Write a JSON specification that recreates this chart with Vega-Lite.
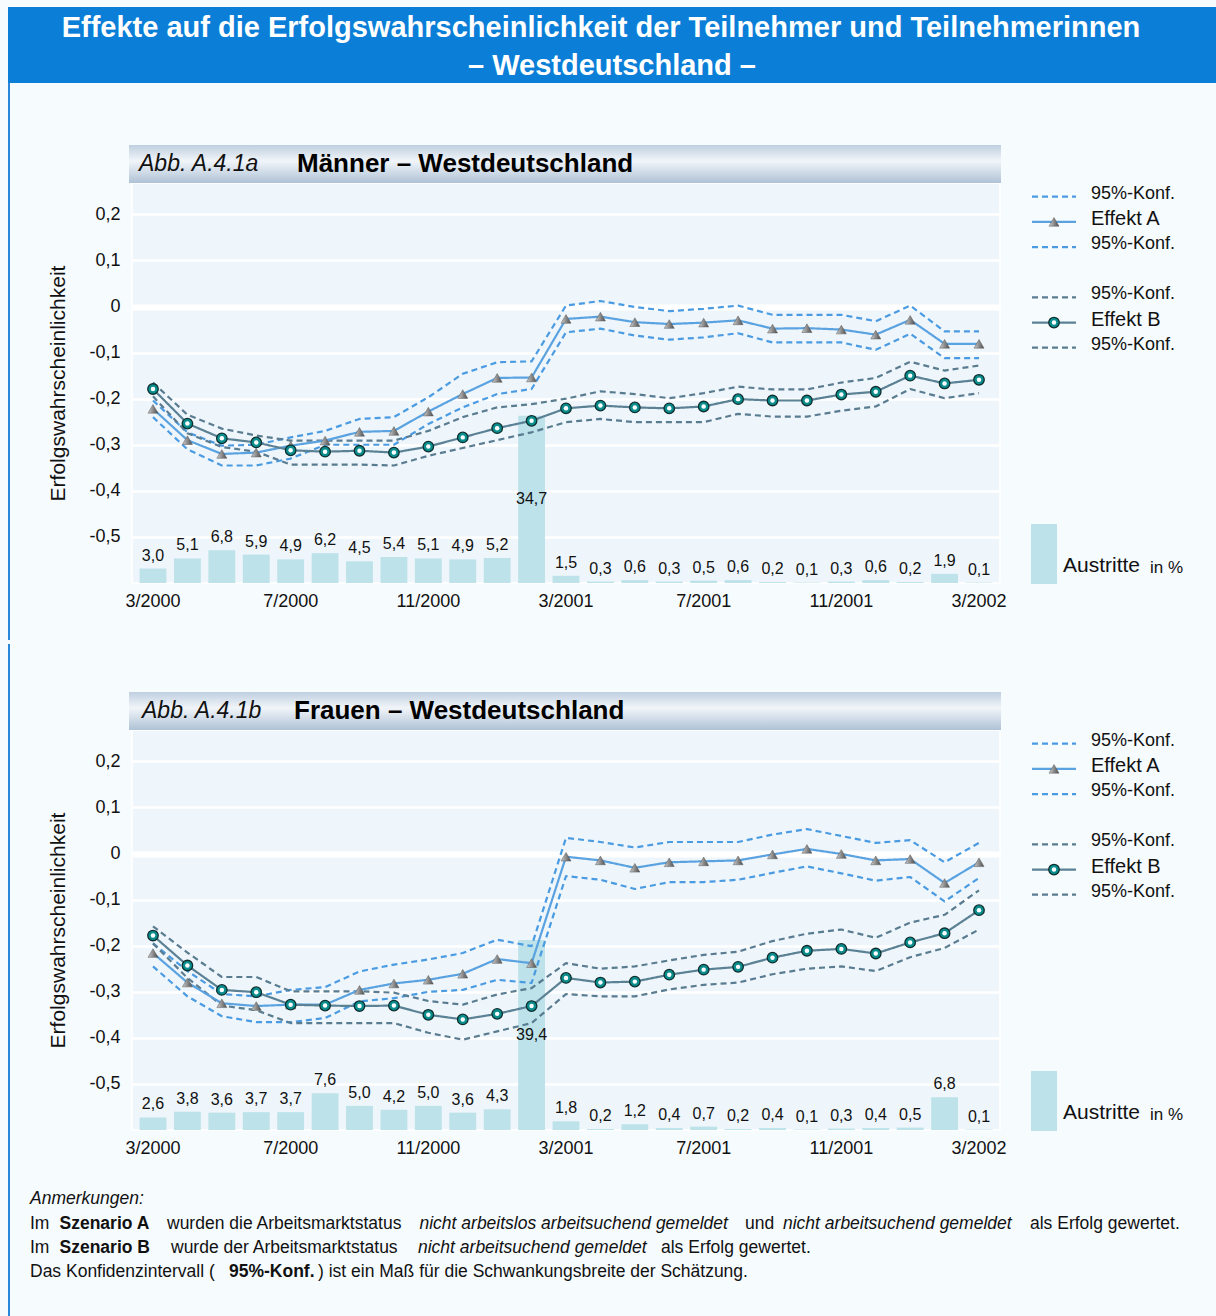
{
  "$schema": "https://vega.github.io/schema/vega-lite/v6.json",
  "padding": {"left": 7, "top": 6, "right": 0, "bottom": 3},
  "autosize": {"type": "pad"},
  "background": "#f6fbfe",
  "config": {
    "font": "Liberation Sans",
    "view": {"stroke": null},
    "locale": {"number": {"decimal": ",", "thousands": ".", "grouping": [3], "currency": ["", " €"], "minus": "-"}}
  },
  "datasets": {
    "men": [
      {"m":"3/2000","a":-0.222,"aLo":-0.240,"aHi":-0.204,"b":-0.179,"bLo":-0.195,"bHi":-0.165,"exit":3.0},
      {"m":"4/2000","a":-0.290,"aLo":-0.310,"aHi":-0.273,"b":-0.254,"bLo":-0.275,"bHi":-0.235,"exit":5.1},
      {"m":"5/2000","a":-0.320,"aLo":-0.345,"aHi":-0.302,"b":-0.286,"bLo":-0.305,"bHi":-0.265,"exit":6.8},
      {"m":"6/2000","a":-0.317,"aLo":-0.345,"aHi":-0.300,"b":-0.295,"bLo":-0.315,"bHi":-0.280,"exit":5.9},
      {"m":"7/2000","a":-0.302,"aLo":-0.330,"aHi":-0.284,"b":-0.312,"bLo":-0.343,"bHi":-0.291,"exit":4.9},
      {"m":"8/2000","a":-0.291,"aLo":-0.300,"aHi":-0.270,"b":-0.315,"bLo":-0.343,"bHi":-0.291,"exit":6.2},
      {"m":"9/2000","a":-0.272,"aLo":-0.300,"aHi":-0.244,"b":-0.313,"bLo":-0.343,"bHi":-0.291,"exit":4.5},
      {"m":"10/2000","a":-0.270,"aLo":-0.300,"aHi":-0.240,"b":-0.317,"bLo":-0.345,"bHi":-0.291,"exit":5.4},
      {"m":"11/2000","a":-0.228,"aLo":-0.255,"aHi":-0.197,"b":-0.304,"bLo":-0.324,"bHi":-0.270,"exit":5.1},
      {"m":"12/2000","a":-0.190,"aLo":-0.219,"aHi":-0.146,"b":-0.284,"bLo":-0.307,"bHi":-0.240,"exit":4.9},
      {"m":"1/2001","a":-0.155,"aLo":-0.190,"aHi":-0.121,"b":-0.264,"bLo":-0.290,"bHi":-0.219,"exit":5.2},
      {"m":"2/2001","a":-0.154,"aLo":-0.179,"aHi":-0.119,"b":-0.248,"bLo":-0.273,"bHi":-0.212,"exit":34.7},
      {"m":"3/2001","a":-0.027,"aLo":-0.056,"aHi":0.002,"b":-0.221,"bLo":-0.251,"bHi":-0.200,"exit":1.5},
      {"m":"4/2001","a":-0.022,"aLo":-0.048,"aHi":0.012,"b":-0.215,"bLo":-0.244,"bHi":-0.184,"exit":0.3},
      {"m":"5/2001","a":-0.034,"aLo":-0.063,"aHi":-0.001,"b":-0.219,"bLo":-0.251,"bHi":-0.190,"exit":0.6},
      {"m":"6/2001","a":-0.038,"aLo":-0.072,"aHi":-0.010,"b":-0.221,"bLo":-0.251,"bHi":-0.199,"exit":0.3},
      {"m":"7/2001","a":-0.035,"aLo":-0.067,"aHi":-0.005,"b":-0.217,"bLo":-0.251,"bHi":-0.188,"exit":0.5},
      {"m":"8/2001","a":-0.030,"aLo":-0.058,"aHi":0.002,"b":-0.201,"bLo":-0.233,"bHi":-0.174,"exit":0.6},
      {"m":"9/2001","a":-0.048,"aLo":-0.078,"aHi":-0.018,"b":-0.204,"bLo":-0.239,"bHi":-0.180,"exit":0.2},
      {"m":"10/2001","a":-0.047,"aLo":-0.078,"aHi":-0.018,"b":-0.204,"bLo":-0.239,"bHi":-0.180,"exit":0.1},
      {"m":"11/2001","a":-0.050,"aLo":-0.078,"aHi":-0.018,"b":-0.191,"bLo":-0.226,"bHi":-0.165,"exit":0.3},
      {"m":"12/2001","a":-0.061,"aLo":-0.094,"aHi":-0.032,"b":-0.185,"bLo":-0.217,"bHi":-0.155,"exit":0.6},
      {"m":"1/2002","a":-0.029,"aLo":-0.059,"aHi":0.002,"b":-0.150,"bLo":-0.179,"bHi":-0.120,"exit":0.2},
      {"m":"2/2002","a":-0.081,"aLo":-0.112,"aHi":-0.054,"b":-0.167,"bLo":-0.199,"bHi":-0.139,"exit":1.9},
      {"m":"3/2002","a":-0.081,"aLo":-0.112,"aHi":-0.054,"b":-0.159,"bLo":-0.188,"bHi":-0.128,"exit":0.1}
    ],
    "women": [
      {"m":"3/2000","a":-0.216,"aLo":-0.245,"aHi":-0.195,"b":-0.178,"bLo":-0.195,"bHi":-0.158,"exit":2.6},
      {"m":"4/2000","a":-0.280,"aLo":-0.310,"aHi":-0.255,"b":-0.243,"bLo":-0.270,"bHi":-0.215,"exit":3.8},
      {"m":"5/2000","a":-0.325,"aLo":-0.353,"aHi":-0.305,"b":-0.296,"bLo":-0.330,"bHi":-0.268,"exit":3.6},
      {"m":"6/2000","a":-0.331,"aLo":-0.366,"aHi":-0.310,"b":-0.301,"bLo":-0.340,"bHi":-0.268,"exit":3.7},
      {"m":"7/2000","a":-0.328,"aLo":-0.366,"aHi":-0.296,"b":-0.328,"bLo":-0.368,"bHi":-0.299,"exit":3.7},
      {"m":"8/2000","a":-0.328,"aLo":-0.357,"aHi":-0.290,"b":-0.330,"bLo":-0.368,"bHi":-0.299,"exit":7.6},
      {"m":"9/2000","a":-0.296,"aLo":-0.321,"aHi":-0.256,"b":-0.331,"bLo":-0.368,"bHi":-0.299,"exit":5.0},
      {"m":"10/2000","a":-0.282,"aLo":-0.314,"aHi":-0.241,"b":-0.330,"bLo":-0.368,"bHi":-0.302,"exit":4.2},
      {"m":"11/2000","a":-0.274,"aLo":-0.300,"aHi":-0.230,"b":-0.350,"bLo":-0.389,"bHi":-0.320,"exit":5.0},
      {"m":"12/2000","a":-0.261,"aLo":-0.296,"aHi":-0.216,"b":-0.360,"bLo":-0.404,"bHi":-0.328,"exit":3.6},
      {"m":"1/2001","a":-0.229,"aLo":-0.274,"aHi":-0.187,"b":-0.348,"bLo":-0.386,"bHi":-0.306,"exit":4.3},
      {"m":"2/2001","a":-0.238,"aLo":-0.281,"aHi":-0.201,"b":-0.331,"bLo":-0.368,"bHi":-0.292,"exit":39.4},
      {"m":"3/2001","a":-0.007,"aLo":-0.049,"aHi":0.034,"b":-0.270,"bLo":-0.305,"bHi":-0.238,"exit":1.8},
      {"m":"4/2001","a":-0.015,"aLo":-0.057,"aHi":0.025,"b":-0.280,"bLo":-0.310,"bHi":-0.250,"exit":0.2},
      {"m":"5/2001","a":-0.031,"aLo":-0.077,"aHi":0.013,"b":-0.278,"bLo":-0.310,"bHi":-0.245,"exit":1.2},
      {"m":"6/2001","a":-0.019,"aLo":-0.062,"aHi":0.025,"b":-0.263,"bLo":-0.295,"bHi":-0.232,"exit":0.4},
      {"m":"7/2001","a":-0.017,"aLo":-0.062,"aHi":0.025,"b":-0.252,"bLo":-0.285,"bHi":-0.220,"exit":0.7},
      {"m":"8/2001","a":-0.015,"aLo":-0.057,"aHi":0.025,"b":-0.246,"bLo":-0.280,"bHi":-0.213,"exit":0.2},
      {"m":"9/2001","a":-0.002,"aLo":-0.042,"aHi":0.041,"b":-0.226,"bLo":-0.262,"bHi":-0.190,"exit":0.4},
      {"m":"10/2001","a":0.010,"aLo":-0.028,"aHi":0.053,"b":-0.211,"bLo":-0.250,"bHi":-0.174,"exit":0.1},
      {"m":"11/2001","a":-0.001,"aLo":-0.043,"aHi":0.038,"b":-0.207,"bLo":-0.245,"bHi":-0.165,"exit":0.3},
      {"m":"12/2001","a":-0.015,"aLo":-0.059,"aHi":0.023,"b":-0.217,"bLo":-0.255,"bHi":-0.183,"exit":0.4},
      {"m":"1/2002","a":-0.012,"aLo":-0.051,"aHi":0.029,"b":-0.193,"bLo":-0.225,"bHi":-0.150,"exit":0.5},
      {"m":"2/2002","a":-0.064,"aLo":-0.104,"aHi":-0.019,"b":-0.173,"bLo":-0.205,"bHi":-0.133,"exit":6.8},
      {"m":"3/2002","a":-0.019,"aLo":-0.053,"aHi":0.023,"b":-0.123,"bLo":-0.165,"bHi":-0.080,"exit":0.1}
    ],
    "legend": [
      {"slot":0,"kind":"aHi","label":"95%-Konf."},
      {"slot":1,"kind":"a","label":"Effekt A"},
      {"slot":2,"kind":"aHi","label":"95%-Konf."},
      {"slot":4,"kind":"bHi","label":"95%-Konf."},
      {"slot":5,"kind":"b","label":"Effekt B"},
      {"slot":6,"kind":"bHi","label":"95%-Konf."},
      {"slot":14.2,"kind":"exit","label":"Austritte","unit":"in %"}
    ]
  },
  "spacing": 0,
  "vconcat": [
    {
      "width": 868, "height": 400,
      "view": {"fill": "#eef6fb", "stroke": "#ffffff", "strokeWidth": 1.5},
      "resolve": {"scale": {"x": "independent", "y": "independent"}},
      "layer": [
        {
          "data": {"name": "men"},
          "encoding": {
            "x": {"field": "m", "type": "ordinal", "sort": null,
              "scale": {"type": "band", "paddingInner": 0.22, "paddingOuter": 0.22, "domain": ["3/2000","4/2000","5/2000","6/2000","7/2000","8/2000","9/2000","10/2000","11/2000","12/2000","1/2001","2/2001","3/2001","4/2001","5/2001","6/2001","7/2001","8/2001","9/2001","10/2001","11/2001","12/2001","1/2002","2/2002","3/2002"]},
              "axis": {"values": ["3/2000","7/2000","11/2000","3/2001","7/2001","11/2001","3/2002"], "title": null, "labelAngle": 0, "domain": false, "ticks": false, "grid": false, "labelFontSize": 18, "labelPadding": 9, "labelColor": "#111111"}}
          },
          "resolve": {"scale": {"y": "independent"}},
          "layer": [
            {
              "encoding": {"y": {"field": "exit", "type": "quantitative", "scale": {"domain": [0, 83], "nice": false}, "axis": null}},
              "layer": [
                {"mark": {"type": "bar", "color": "#bde2ea"}},
                {"transform": [{"filter": "datum.exit < 20"}], "mark": {"type": "text", "baseline": "bottom", "dy": -5, "fontSize": 16, "color": "#111111"}, "encoding": {"text": {"field": "exit", "type": "quantitative", "format": ".1f"}}},
                {"transform": [{"filter": "datum.exit >= 20"}, {"calculate": "datum.exit / 2", "as": "mid"}], "mark": {"type": "text", "baseline": "middle", "fontSize": 16, "color": "#111111"}, "encoding": {"y": {"field": "mid", "type": "quantitative", "axis": null}, "text": {"field": "exit", "type": "quantitative", "format": ".1f"}}}
              ]
            },
            {
              "transform": [{"fold": ["aHi", "aLo", "bHi", "bLo", "a", "b"], "as": ["key", "value"]}],
              "encoding": {"y": {"field": "value", "type": "quantitative", "scale": {"domain": [-0.6, 0.268], "nice": false, "zero": false},
                "axis": {"title": "Erfolgswahrscheinlichkeit", "values": [0.2, 0.1, 0, -0.1, -0.2, -0.3, -0.4, -0.5], "labelExpr": "datum.value == 0 ? '0' : (datum.value < 0 ? '-' : '') + '0,' + format(abs(datum.value) * 10, '.0f')", "domain": false, "ticks": false, "grid": true, "gridColor": "#ffffff", "gridOpacity": 1, "gridWidth": {"condition": {"test": "datum.value === 0", "value": 6}, "value": 2.5}, "labelFontSize": 18, "labelPadding": 12, "labelColor": "#111111", "titleFontSize": 21, "titleFontWeight": "normal", "titleColor": "#111111", "titlePadding": 20}}},
              "layer": [
                {"mark": {"type": "line", "strokeJoin": "round"}, "encoding": {
                  "detail": {"field": "key"},
                  "color": {"field": "key", "type": "nominal", "scale": {"domain": ["aHi","aLo","bHi","bLo","a","b"], "range": ["#4b9be2","#4b9be2","#5a7c90","#5a7c90","#5aa2e0","#5b8194"]}, "legend": null},
                  "strokeDash": {"field": "key", "type": "nominal", "scale": {"domain": ["aHi","aLo","bHi","bLo","a","b"], "range": [[6,4],[6,4],[6,4],[6,4],[1,0],[1,0]]}, "legend": null},
                  "strokeWidth": {"field": "key", "type": "nominal", "scale": {"domain": ["aHi","aLo","bHi","bLo","a","b"], "range": [2.2,2.2,2.2,2.2,4.5,4.5]}, "legend": null}
                }},
                {"transform": [{"filter": "datum.key === 'a'"}], "mark": {"type": "point", "shape": "triangle-up", "filled": true, "size": 100, "opacity": 1, "fill": {"gradient": "linear", "x1": 0, "y1": 0, "x2": 1, "y2": 0, "stops": [{"offset": 0, "color": "#cfcfcf"}, {"offset": 0.5, "color": "#8c8c8c"}, {"offset": 1, "color": "#4d4d4d"}]}, "stroke": "#5a5a5a", "strokeWidth": 0.5}},
                {"transform": [{"filter": "datum.key === 'b'"}], "mark": {"type": "point", "shape": "circle", "filled": true, "size": 110, "opacity": 1, "fill": "#0a8d8d", "stroke": "#0f2f2f", "strokeWidth": 1.3}},
                {"transform": [{"filter": "datum.key === 'b'"}], "mark": {"type": "point", "shape": "circle", "filled": true, "size": 20, "opacity": 1, "fill": "#ffffff", "strokeWidth": 0}}
              ]
            }
          ]
        },
        {
          "data": {"name": "legend"},
          "encoding": {
            "y": {"field": "slot", "type": "quantitative", "scale": {"domain": [-0.544, 15.348], "reverse": true, "nice": false, "zero": false}, "axis": null}
          },
          "layer": [
            {"transform": [{"filter": "datum.kind !== 'exit'"}], "mark": {"type": "rule"}, "encoding": {
              "x": {"datum": 900, "type": "quantitative", "scale": {"domain": [0, 868], "nice": false, "zero": false}, "axis": null},
              "x2": {"datum": 944},
              "color": {"field": "kind", "type": "nominal", "scale": {"domain": ["aHi","aLo","bHi","bLo","a","b"], "range": ["#4b9be2","#4b9be2","#5a7c90","#5a7c90","#5aa2e0","#5b8194"]}, "legend": null},
              "strokeDash": {"field": "kind", "type": "nominal", "scale": {"domain": ["aHi","aLo","bHi","bLo","a","b"], "range": [[6,4],[6,4],[6,4],[6,4],[1,0],[1,0]]}, "legend": null},
              "strokeWidth": {"field": "kind", "type": "nominal", "scale": {"domain": ["aHi","aLo","bHi","bLo","a","b"], "range": [2.2,2.2,2.2,2.2,4.5,4.5]}, "legend": null}
            }},
            {"transform": [{"filter": "datum.kind === 'a'"}], "mark": {"type": "point", "shape": "triangle-up", "filled": true, "size": 100, "opacity": 1, "fill": {"gradient": "linear", "x1": 0, "y1": 0, "x2": 1, "y2": 0, "stops": [{"offset": 0, "color": "#cfcfcf"}, {"offset": 0.5, "color": "#8c8c8c"}, {"offset": 1, "color": "#4d4d4d"}]}, "stroke": "#5a5a5a", "strokeWidth": 0.5}, "encoding": {"x": {"datum": 922, "type": "quantitative"}}},
            {"transform": [{"filter": "datum.kind === 'b'"}], "mark": {"type": "point", "shape": "circle", "filled": true, "size": 110, "opacity": 1, "fill": "#0a8d8d", "stroke": "#0f2f2f", "strokeWidth": 1.3}, "encoding": {"x": {"datum": 922, "type": "quantitative"}}},
            {"transform": [{"filter": "datum.kind === 'b'"}], "mark": {"type": "point", "shape": "circle", "filled": true, "size": 20, "opacity": 1, "fill": "#ffffff", "strokeWidth": 0}, "encoding": {"x": {"datum": 922, "type": "quantitative"}}},
            {"transform": [{"filter": "datum.kind !== 'exit'"}], "mark": {"type": "text", "align": "left", "baseline": "middle", "dy": -3, "color": "#111111"}, "encoding": {
              "x": {"datum": 959, "type": "quantitative"},
              "text": {"field": "label"},
              "size": {"condition": {"test": "datum.kind === 'a' || datum.kind === 'b'", "value": 20}, "value": 18}
            }},
            {"transform": [{"filter": "datum.kind === 'exit'"}], "mark": {"type": "tick", "orient": "vertical", "thickness": 26, "size": 60, "color": "#bde2ea", "opacity": 1}, "encoding": {"x": {"datum": 912, "type": "quantitative"}}},
            {"transform": [{"filter": "datum.kind === 'exit'"}], "mark": {"type": "text", "align": "left", "baseline": "alphabetic", "dy": 18, "fontSize": 21, "color": "#111111"}, "encoding": {"x": {"datum": 931, "type": "quantitative"}, "text": {"field": "label"}}},
            {"transform": [{"filter": "datum.kind === 'exit'"}], "mark": {"type": "text", "align": "left", "baseline": "alphabetic", "dy": 19, "fontSize": 17, "color": "#111111"}, "encoding": {"x": {"datum": 1018, "type": "quantitative"}, "text": {"field": "unit"}}}
          ]
        },
        {
          "data": {"values": [{"abb": "Abb. A.4.1a", "t": "Männer – Westdeutschland", "h1": "Effekte auf die Erfolgswahrscheinlichkeit der Teilnehmer und Teilnehmerinnen", "h2": "– Westdeutschland –"}]},
          "layer": [
            {"mark": {"type": "rect", "fill": "#0b7fd8"}, "encoding": {
              "x": {"datum": -124, "type": "quantitative", "scale": {"domain": [0, 868], "nice": false, "zero": false}, "axis": null},
              "x2": {"datum": 1085},
              "y": {"datum": -176, "type": "quantitative", "scale": {"domain": [0, 400], "reverse": true, "nice": false, "zero": false}, "axis": null},
              "y2": {"datum": -100}
            }},
            {"mark": {"type": "text", "align": "center", "baseline": "middle", "fontSize": 29, "fontWeight": "bold", "color": "#ffffff"}, "encoding": {"x": {"datum": 469, "type": "quantitative"}, "y": {"datum": -155, "type": "quantitative"}, "text": {"field": "h1"}}},
            {"mark": {"type": "text", "align": "center", "baseline": "middle", "fontSize": 29, "fontWeight": "bold", "color": "#ffffff"}, "encoding": {"x": {"datum": 480, "type": "quantitative"}, "y": {"datum": -117, "type": "quantitative"}, "text": {"field": "h2"}}},
            {"mark": {"type": "rule", "color": "#2a86d8", "strokeWidth": 2}, "encoding": {
              "x": {"datum": -123, "type": "quantitative"},
              "y": {"datum": -100, "type": "quantitative"},
              "y2": {"datum": 457}
            }},
            {"mark": {"type": "rect", "fill": {"gradient": "linear", "x1": 0, "y1": 0, "x2": 0, "y2": 1, "stops": [{"offset": 0, "color": "#bfcfe0"}, {"offset": 0.42, "color": "#f1f5f9"}, {"offset": 1, "color": "#afc2d6"}]}}, "encoding": {
              "x": {"datum": -3, "type": "quantitative"}, "x2": {"datum": 869},
              "y": {"datum": -38, "type": "quantitative"}, "y2": {"datum": 0}
            }},
            {"mark": {"type": "text", "align": "left", "baseline": "middle", "fontSize": 23, "fontStyle": "italic", "color": "#111111"}, "encoding": {"x": {"datum": 7, "type": "quantitative"}, "y": {"datum": -19, "type": "quantitative"}, "text": {"field": "abb"}}},
            {"mark": {"type": "text", "align": "left", "baseline": "middle", "fontSize": 26, "fontWeight": "bold", "color": "#000000"}, "encoding": {"x": {"datum": 165, "type": "quantitative"}, "y": {"datum": -19, "type": "quantitative"}, "text": {"field": "t"}}}
          ]
        }
      ]
    },
    {
      "width": 868, "height": 400,
      "view": {"fill": "#eef6fb", "stroke": "#ffffff", "strokeWidth": 1.5},
      "resolve": {"scale": {"x": "independent", "y": "independent"}},
      "layer": [
        {
          "data": {"name": "women"},
          "encoding": {
            "x": {"field": "m", "type": "ordinal", "sort": null,
              "scale": {"type": "band", "paddingInner": 0.22, "paddingOuter": 0.22, "domain": ["3/2000","4/2000","5/2000","6/2000","7/2000","8/2000","9/2000","10/2000","11/2000","12/2000","1/2001","2/2001","3/2001","4/2001","5/2001","6/2001","7/2001","8/2001","9/2001","10/2001","11/2001","12/2001","1/2002","2/2002","3/2002"]},
              "axis": {"values": ["3/2000","7/2000","11/2000","3/2001","7/2001","11/2001","3/2002"], "title": null, "labelAngle": 0, "domain": false, "ticks": false, "grid": false, "labelFontSize": 18, "labelPadding": 9, "labelColor": "#111111"}}
          },
          "resolve": {"scale": {"y": "independent"}},
          "layer": [
            {
              "encoding": {"y": {"field": "exit", "type": "quantitative", "scale": {"domain": [0, 83], "nice": false}, "axis": null}},
              "layer": [
                {"mark": {"type": "bar", "color": "#bde2ea"}},
                {"transform": [{"filter": "datum.exit < 20"}], "mark": {"type": "text", "baseline": "bottom", "dy": -5, "fontSize": 16, "color": "#111111"}, "encoding": {"text": {"field": "exit", "type": "quantitative", "format": ".1f"}}},
                {"transform": [{"filter": "datum.exit >= 20"}, {"calculate": "datum.exit / 2", "as": "mid"}], "mark": {"type": "text", "baseline": "middle", "fontSize": 16, "color": "#111111"}, "encoding": {"y": {"field": "mid", "type": "quantitative", "axis": null}, "text": {"field": "exit", "type": "quantitative", "format": ".1f"}}}
              ]
            },
            {
              "transform": [{"fold": ["aHi", "aLo", "bHi", "bLo", "a", "b"], "as": ["key", "value"]}],
              "encoding": {"y": {"field": "value", "type": "quantitative", "scale": {"domain": [-0.6, 0.268], "nice": false, "zero": false},
                "axis": {"title": "Erfolgswahrscheinlichkeit", "values": [0.2, 0.1, 0, -0.1, -0.2, -0.3, -0.4, -0.5], "labelExpr": "datum.value == 0 ? '0' : (datum.value < 0 ? '-' : '') + '0,' + format(abs(datum.value) * 10, '.0f')", "domain": false, "ticks": false, "grid": true, "gridColor": "#ffffff", "gridOpacity": 1, "gridWidth": {"condition": {"test": "datum.value === 0", "value": 6}, "value": 2.5}, "labelFontSize": 18, "labelPadding": 12, "labelColor": "#111111", "titleFontSize": 21, "titleFontWeight": "normal", "titleColor": "#111111", "titlePadding": 20}}},
              "layer": [
                {"mark": {"type": "line", "strokeJoin": "round"}, "encoding": {
                  "detail": {"field": "key"},
                  "color": {"field": "key", "type": "nominal", "scale": {"domain": ["aHi","aLo","bHi","bLo","a","b"], "range": ["#4b9be2","#4b9be2","#5a7c90","#5a7c90","#5aa2e0","#5b8194"]}, "legend": null},
                  "strokeDash": {"field": "key", "type": "nominal", "scale": {"domain": ["aHi","aLo","bHi","bLo","a","b"], "range": [[6,4],[6,4],[6,4],[6,4],[1,0],[1,0]]}, "legend": null},
                  "strokeWidth": {"field": "key", "type": "nominal", "scale": {"domain": ["aHi","aLo","bHi","bLo","a","b"], "range": [2.2,2.2,2.2,2.2,4.5,4.5]}, "legend": null}
                }},
                {"transform": [{"filter": "datum.key === 'a'"}], "mark": {"type": "point", "shape": "triangle-up", "filled": true, "size": 100, "opacity": 1, "fill": {"gradient": "linear", "x1": 0, "y1": 0, "x2": 1, "y2": 0, "stops": [{"offset": 0, "color": "#cfcfcf"}, {"offset": 0.5, "color": "#8c8c8c"}, {"offset": 1, "color": "#4d4d4d"}]}, "stroke": "#5a5a5a", "strokeWidth": 0.5}},
                {"transform": [{"filter": "datum.key === 'b'"}], "mark": {"type": "point", "shape": "circle", "filled": true, "size": 110, "opacity": 1, "fill": "#0a8d8d", "stroke": "#0f2f2f", "strokeWidth": 1.3}},
                {"transform": [{"filter": "datum.key === 'b'"}], "mark": {"type": "point", "shape": "circle", "filled": true, "size": 20, "opacity": 1, "fill": "#ffffff", "strokeWidth": 0}}
              ]
            }
          ]
        },
        {
          "data": {"name": "legend"},
          "encoding": {
            "y": {"field": "slot", "type": "quantitative", "scale": {"domain": [-0.544, 15.348], "reverse": true, "nice": false, "zero": false}, "axis": null}
          },
          "layer": [
            {"transform": [{"filter": "datum.kind !== 'exit'"}], "mark": {"type": "rule"}, "encoding": {
              "x": {"datum": 900, "type": "quantitative", "scale": {"domain": [0, 868], "nice": false, "zero": false}, "axis": null},
              "x2": {"datum": 944},
              "color": {"field": "kind", "type": "nominal", "scale": {"domain": ["aHi","aLo","bHi","bLo","a","b"], "range": ["#4b9be2","#4b9be2","#5a7c90","#5a7c90","#5aa2e0","#5b8194"]}, "legend": null},
              "strokeDash": {"field": "kind", "type": "nominal", "scale": {"domain": ["aHi","aLo","bHi","bLo","a","b"], "range": [[6,4],[6,4],[6,4],[6,4],[1,0],[1,0]]}, "legend": null},
              "strokeWidth": {"field": "kind", "type": "nominal", "scale": {"domain": ["aHi","aLo","bHi","bLo","a","b"], "range": [2.2,2.2,2.2,2.2,4.5,4.5]}, "legend": null}
            }},
            {"transform": [{"filter": "datum.kind === 'a'"}], "mark": {"type": "point", "shape": "triangle-up", "filled": true, "size": 100, "opacity": 1, "fill": {"gradient": "linear", "x1": 0, "y1": 0, "x2": 1, "y2": 0, "stops": [{"offset": 0, "color": "#cfcfcf"}, {"offset": 0.5, "color": "#8c8c8c"}, {"offset": 1, "color": "#4d4d4d"}]}, "stroke": "#5a5a5a", "strokeWidth": 0.5}, "encoding": {"x": {"datum": 922, "type": "quantitative"}}},
            {"transform": [{"filter": "datum.kind === 'b'"}], "mark": {"type": "point", "shape": "circle", "filled": true, "size": 110, "opacity": 1, "fill": "#0a8d8d", "stroke": "#0f2f2f", "strokeWidth": 1.3}, "encoding": {"x": {"datum": 922, "type": "quantitative"}}},
            {"transform": [{"filter": "datum.kind === 'b'"}], "mark": {"type": "point", "shape": "circle", "filled": true, "size": 20, "opacity": 1, "fill": "#ffffff", "strokeWidth": 0}, "encoding": {"x": {"datum": 922, "type": "quantitative"}}},
            {"transform": [{"filter": "datum.kind !== 'exit'"}], "mark": {"type": "text", "align": "left", "baseline": "middle", "dy": -3, "color": "#111111"}, "encoding": {
              "x": {"datum": 959, "type": "quantitative"},
              "text": {"field": "label"},
              "size": {"condition": {"test": "datum.kind === 'a' || datum.kind === 'b'", "value": 20}, "value": 18}
            }},
            {"transform": [{"filter": "datum.kind === 'exit'"}], "mark": {"type": "tick", "orient": "vertical", "thickness": 26, "size": 60, "color": "#bde2ea", "opacity": 1}, "encoding": {"x": {"datum": 912, "type": "quantitative"}}},
            {"transform": [{"filter": "datum.kind === 'exit'"}], "mark": {"type": "text", "align": "left", "baseline": "alphabetic", "dy": 18, "fontSize": 21, "color": "#111111"}, "encoding": {"x": {"datum": 931, "type": "quantitative"}, "text": {"field": "label"}}},
            {"transform": [{"filter": "datum.kind === 'exit'"}], "mark": {"type": "text", "align": "left", "baseline": "alphabetic", "dy": 19, "fontSize": 17, "color": "#111111"}, "encoding": {"x": {"datum": 1018, "type": "quantitative"}, "text": {"field": "unit"}}}
          ]
        },
        {
          "data": {"values": [{"abb": "Abb. A.4.1b", "t": "Frauen – Westdeutschland"}]},
          "layer": [
            {"mark": {"type": "rule", "color": "#2a86d8", "strokeWidth": 2}, "encoding": {
              "x": {"datum": -123, "type": "quantitative", "scale": {"domain": [0, 868], "nice": false, "zero": false}, "axis": null},
              "y": {"datum": -86, "type": "quantitative", "scale": {"domain": [0, 400], "reverse": true, "nice": false, "zero": false}, "axis": null},
              "y2": {"datum": 586}
            }},
            {"mark": {"type": "rect", "fill": {"gradient": "linear", "x1": 0, "y1": 0, "x2": 0, "y2": 1, "stops": [{"offset": 0, "color": "#bfcfe0"}, {"offset": 0.42, "color": "#f1f5f9"}, {"offset": 1, "color": "#afc2d6"}]}}, "encoding": {
              "x": {"datum": -3, "type": "quantitative"}, "x2": {"datum": 869},
              "y": {"datum": -38, "type": "quantitative"}, "y2": {"datum": 0}
            }},
            {"mark": {"type": "text", "align": "left", "baseline": "middle", "fontSize": 23, "fontStyle": "italic", "color": "#111111"}, "encoding": {"x": {"datum": 10, "type": "quantitative"}, "y": {"datum": -19, "type": "quantitative"}, "text": {"field": "abb"}}},
            {"mark": {"type": "text", "align": "left", "baseline": "middle", "fontSize": 26, "fontWeight": "bold", "color": "#000000"}, "encoding": {"x": {"datum": 162, "type": "quantitative"}, "y": {"datum": -19, "type": "quantitative"}, "text": {"field": "t"}}},
            {"mark": {"type": "text", "align": "left", "baseline": "middle", "fontSize": 17.5, "fontStyle": "italic", "color": "#111111"}, "encoding": {"x": {"datum": -102, "type": "quantitative"}, "y": {"datum": 469, "type": "quantitative"}, "text": {"value": "Anmerkungen:"}}},
            {"mark": {"type": "text", "align": "left", "baseline": "middle", "fontSize": 17.5, "color": "#111111"}, "encoding": {"x": {"datum": -102, "type": "quantitative"}, "y": {"datum": 494, "type": "quantitative"}, "text": {"value": "Im"}}},
            {"mark": {"type": "text", "align": "left", "baseline": "middle", "fontSize": 17.5, "fontWeight": "bold", "color": "#111111"}, "encoding": {"x": {"datum": -72.5, "type": "quantitative"}, "y": {"datum": 494, "type": "quantitative"}, "text": {"value": "Szenario A"}}},
            {"mark": {"type": "text", "align": "left", "baseline": "middle", "fontSize": 17.5, "color": "#111111"}, "encoding": {"x": {"datum": 35, "type": "quantitative"}, "y": {"datum": 494, "type": "quantitative"}, "text": {"value": "wurden die Arbeitsmarktstatus"}}},
            {"mark": {"type": "text", "align": "left", "baseline": "middle", "fontSize": 17.5, "fontStyle": "italic", "color": "#111111"}, "encoding": {"x": {"datum": 287.5, "type": "quantitative"}, "y": {"datum": 494, "type": "quantitative"}, "text": {"value": "nicht arbeitslos arbeitsuchend gemeldet"}}},
            {"mark": {"type": "text", "align": "left", "baseline": "middle", "fontSize": 17.5, "color": "#111111"}, "encoding": {"x": {"datum": 613, "type": "quantitative"}, "y": {"datum": 494, "type": "quantitative"}, "text": {"value": "und"}}},
            {"mark": {"type": "text", "align": "left", "baseline": "middle", "fontSize": 17.5, "fontStyle": "italic", "color": "#111111"}, "encoding": {"x": {"datum": 651, "type": "quantitative"}, "y": {"datum": 494, "type": "quantitative"}, "text": {"value": "nicht arbeitsuchend gemeldet"}}},
            {"mark": {"type": "text", "align": "left", "baseline": "middle", "fontSize": 17.5, "color": "#111111"}, "encoding": {"x": {"datum": 898, "type": "quantitative"}, "y": {"datum": 494, "type": "quantitative"}, "text": {"value": "als Erfolg gewertet."}}},
            {"mark": {"type": "text", "align": "left", "baseline": "middle", "fontSize": 17.5, "color": "#111111"}, "encoding": {"x": {"datum": -102, "type": "quantitative"}, "y": {"datum": 518, "type": "quantitative"}, "text": {"value": "Im"}}},
            {"mark": {"type": "text", "align": "left", "baseline": "middle", "fontSize": 17.5, "fontWeight": "bold", "color": "#111111"}, "encoding": {"x": {"datum": -72.5, "type": "quantitative"}, "y": {"datum": 518, "type": "quantitative"}, "text": {"value": "Szenario B"}}},
            {"mark": {"type": "text", "align": "left", "baseline": "middle", "fontSize": 17.5, "color": "#111111"}, "encoding": {"x": {"datum": 39, "type": "quantitative"}, "y": {"datum": 518, "type": "quantitative"}, "text": {"value": "wurde der Arbeitsmarktstatus"}}},
            {"mark": {"type": "text", "align": "left", "baseline": "middle", "fontSize": 17.5, "fontStyle": "italic", "color": "#111111"}, "encoding": {"x": {"datum": 286, "type": "quantitative"}, "y": {"datum": 518, "type": "quantitative"}, "text": {"value": "nicht arbeitsuchend gemeldet"}}},
            {"mark": {"type": "text", "align": "left", "baseline": "middle", "fontSize": 17.5, "color": "#111111"}, "encoding": {"x": {"datum": 529, "type": "quantitative"}, "y": {"datum": 518, "type": "quantitative"}, "text": {"value": "als Erfolg gewertet."}}},
            {"mark": {"type": "text", "align": "left", "baseline": "middle", "fontSize": 17.5, "color": "#111111"}, "encoding": {"x": {"datum": -102, "type": "quantitative"}, "y": {"datum": 542, "type": "quantitative"}, "text": {"value": "Das Konfidenzintervall ("}}},
            {"mark": {"type": "text", "align": "left", "baseline": "middle", "fontSize": 17.5, "fontWeight": "bold", "color": "#111111"}, "encoding": {"x": {"datum": 97, "type": "quantitative"}, "y": {"datum": 542, "type": "quantitative"}, "text": {"value": "95%-Konf."}}},
            {"mark": {"type": "text", "align": "left", "baseline": "middle", "fontSize": 17.5, "color": "#111111"}, "encoding": {"x": {"datum": 186, "type": "quantitative"}, "y": {"datum": 542, "type": "quantitative"}, "text": {"value": ") ist ein Maß für die Schwankungsbreite der Schätzung."}}}
          ]
        }
      ]
    }
  ]
}
